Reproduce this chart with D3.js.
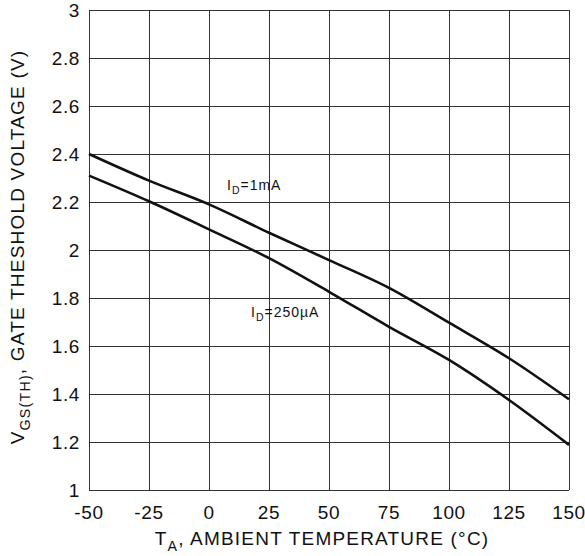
<!DOCTYPE html>
<html><head><meta charset="utf-8">
<script src="https://cdn.jsdelivr.net/npm/d3@7"></script>
<style>body{margin:0;background:#fff}text{font-family:"Liberation Sans",Arial,sans-serif;fill:#111}</style>
</head><body><svg id="c" width="585" height="556"></svg>
<script>
const temps = [-50, -25, 0, 25, 50, 75, 100, 125, 150];
const vth1mA = [2.40, 2.289, 2.19, 2.072, 1.958, 1.842, 1.697, 1.549, 1.378];
const vth250uA = [2.31, 2.203, 2.086, 1.966, 1.826, 1.68, 1.542, 1.375, 1.188];
const xTicks = [-50, -25, 0, 25, 50, 75, 100, 125, 150];
const yTicks = [1, 1.2, 1.4, 1.6, 1.8, 2, 2.2, 2.4, 2.6, 2.8, 3];

const svg = d3.select("#c");
const m = {l: 89, r: 569, t: 10, b: 490};
const x = d3.scaleLinear().domain([-50, 150]).range([m.l, m.r]);
const y = d3.scaleLinear().domain([1, 3]).range([m.b, m.t]);

const g = svg.append("g");
g.selectAll(".vg").data(xTicks).join("line")
  .attr("x1", d => x(d)).attr("x2", d => x(d)).attr("y1", m.t).attr("y2", m.b)
  .attr("stroke", "#333").attr("stroke-width", 1).attr("shape-rendering","crispEdges");
g.selectAll(".hg").data(yTicks).join("line")
  .attr("y1", d => y(d)).attr("y2", d => y(d)).attr("x1", m.l).attr("x2", m.r)
  .attr("stroke", "#333").attr("stroke-width", 1).attr("shape-rendering","crispEdges");

g.selectAll(".xl").data(xTicks).join("text")
  .attr("x", d => x(d)).attr("y", 519).attr("text-anchor", "middle")
  .attr("font-size", 19).attr("letter-spacing", 0.6).text(d => d);
g.selectAll(".yl").data(yTicks).join("text")
  .attr("x", 80).attr("y", d => y(d) + 6.8).attr("text-anchor", "end")
  .attr("font-size", 19).attr("letter-spacing", 0.6).text(d => d);

const line = d3.line().x(d => x(d[0])).y(d => y(d[1])).curve(d3.curveMonotoneX);
[vth1mA, vth250uA].forEach(s => {
  svg.append("path").datum(temps.map((t, i) => [t, s[i]]))
    .attr("d", line).attr("fill", "none").attr("stroke", "#111").attr("stroke-width", 2.6);
});

function sublabel(xp, yp, main, sub, rest, fs, ls) {
  const t = svg.append("text").attr("x", xp).attr("y", yp).attr("font-size", fs).attr("letter-spacing", ls);
  t.append("tspan").text(main);
  t.append("tspan").attr("dy", fs*0.3).attr("font-size", fs*0.75).text(sub);
  t.append("tspan").attr("dy", -fs*0.3).text(rest);
  return t;
}
sublabel(227, 190, "I", "D", "=1mA", 14, 1);
sublabel(251, 317, "I", "D", "=250µA", 14, 1);

sublabel(322, 545, "T", "A", ", AMBIENT TEMPERATURE (°C)", 19, 1.2).attr("text-anchor", "middle");
sublabel(0, 0, "V", "GS(TH)", ", GATE THESHOLD VOLTAGE (V)", 19, 1.2)
  .attr("text-anchor", "middle").attr("transform", "translate(24,247) rotate(-90)");
</script></body></html>
